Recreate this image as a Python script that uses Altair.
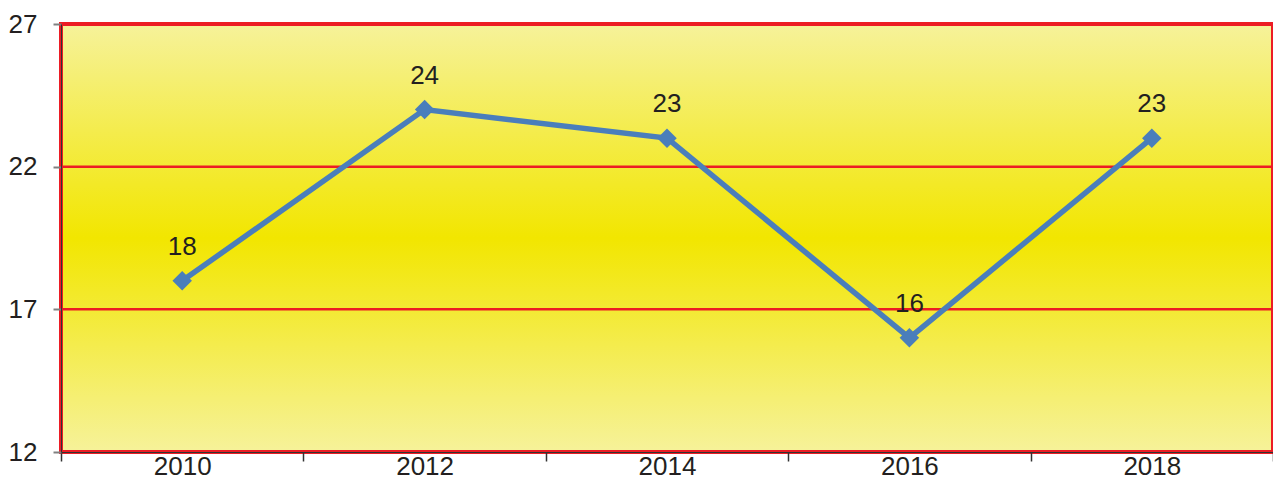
import altair as alt
import pandas as pd

years = ["2010", "2012", "2014", "2016", "2018"]
values = [18, 24, 23, 16, 23]
y_ticks = [12, 17, 22, 27]
grid_values = [17, 22]

df = pd.DataFrame({"year": years, "value": values})
grid_df = pd.DataFrame({"value": grid_values})

FONT = "Liberation Sans"
TXT = "#231f20"
BLUE = "#4a7ebb"
RED = "#ec1c24"
W, H = 1212, 428

x_enc = alt.X(
    "year:N",
    bandPosition=0.5,
    scale=alt.Scale(type="band", paddingInner=0, paddingOuter=0),
    axis=alt.Axis(
        title=None, labelAngle=0, tickBand="extent", grid=False,
        tickSize=9, tickColor="#333333", tickWidth=1.5,
        domainColor="#333333", domainWidth=1, zindex=1,
        labelFont=FONT, labelFontSize=26, labelColor=TXT, labelPadding=-8,
    ),
)
y_scale = alt.Scale(domain=[12, 27], nice=False, zero=False)
y_axis = alt.Axis(
    title=None, values=y_ticks, grid=False,
    tickSize=8, tickColor="#808080", tickWidth=2,
    domainColor="#333333", domainWidth=1, zindex=1,
    labelFont=FONT, labelFontSize=26, labelColor=TXT, labelPadding=16,
)
y_enc = alt.Y("value:Q", scale=y_scale, axis=y_axis)

gradient = alt.LinearGradient(
    gradient="linear", x1=0, y1=0, x2=0, y2=1,
    stops=[
        alt.GradientStop(offset=0, color="#f6f29a"),
        alt.GradientStop(offset=0.5, color="#f2e600"),
        alt.GradientStop(offset=1, color="#f6f29a"),
    ],
)

frame_df = pd.DataFrame({"k": [0]})
bg = alt.Chart(frame_df).mark_rect(fill=gradient, strokeWidth=0).encode(
    x=alt.value(0), x2=alt.value(W), y=alt.value(0), y2=alt.value(H)
)
border = alt.Chart(frame_df).mark_rect(filled=False, stroke=RED, strokeWidth=4, fillOpacity=0).encode(
    x=alt.value(0), x2=alt.value(W), y=alt.value(0), y2=alt.value(H)
)
grid = alt.Chart(grid_df).mark_rule(color=RED, strokeWidth=2.5).encode(y=y_enc)

base = alt.Chart(df)
line = base.mark_line(color=BLUE, strokeWidth=5.5).encode(x=x_enc, y=y_enc)
pts = base.mark_point(shape="diamond", filled=True, size=380, color=BLUE, opacity=1).encode(x=x_enc, y=y_enc)
labels = base.mark_text(font=FONT, fontSize=26, color=TXT, baseline="alphabetic", dy=-26).encode(
    x=x_enc, y=y_enc, text="value:Q"
)

chart = (
    alt.layer(bg, grid, border, line, pts, labels)
    .properties(
        width=W, height=H,
        autosize=alt.AutoSizeParams(type="none"),
        padding={"left": 53, "top": 16, "right": 0, "bottom": 28},
    )
    .configure_view(stroke=None)
    .configure(background="white")
)

chart.save("out.html", embed_options={"renderer": "svg", "actions": False})
